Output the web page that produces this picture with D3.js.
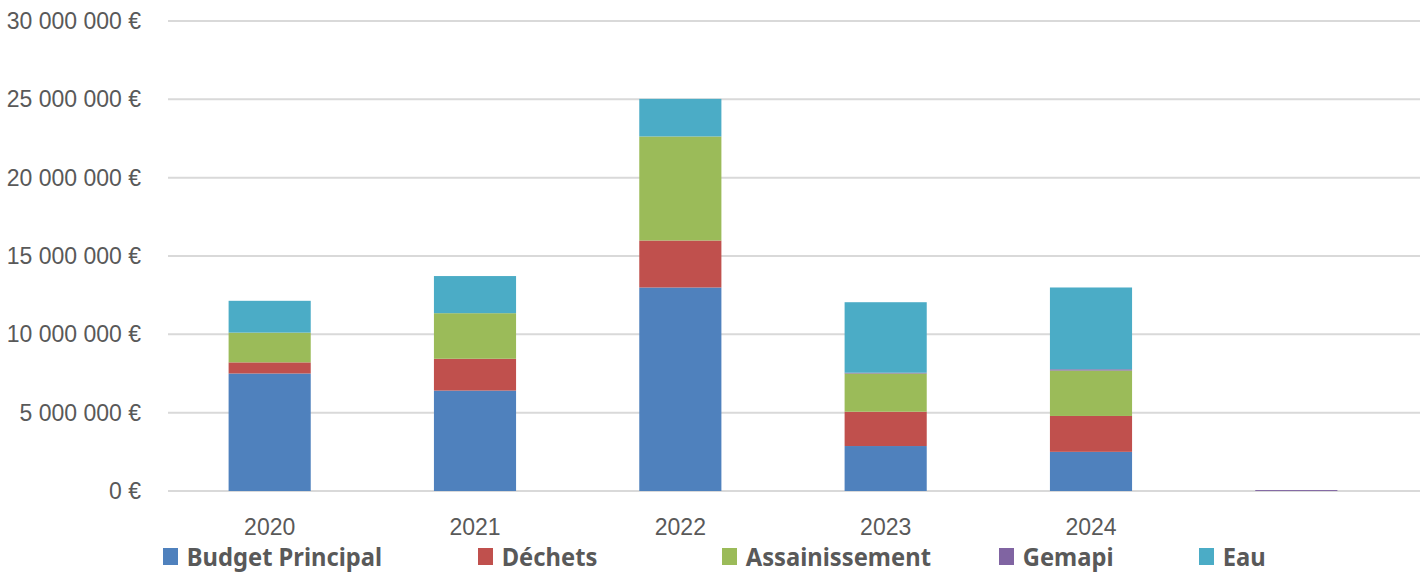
<html>
<head>
    <style>
        body {
            margin: 0;
            background-color: white;
            font-family: 'Noto Sans', sans-serif;
        }

        .axis text {
            fill: #595959;
            font-size: 23px;
        }

        .grid line {
            stroke: #d9d9d9;
            stroke-width: 2;
        }

        .legend text {
            fill: #595959;
            font-size: 25px;
            font-weight: bold;
        }
    </style>
    <script src="https://d3js.org/d3.v7.min.js"></script>
</head>

<body>
    <svg width="1427" height="572"></svg>

    <script>
        var years = ['2020', '2021', '2022', '2023', '2024', ''];
        var seriesNames = ['Budget Principal', 'Déchets', 'Assainissement', 'Gemapi', 'Eau'];
        var budgetPrincipal = [7500000, 6410000, 12990000, 2870000, 2500000, 0];
        var dechets = [710000, 2030000, 3000000, 2190000, 2290000, 0];
        var assainissement = [1900000, 2910000, 6640000, 2440000, 2900000, 0];
        var gemapi = [0, 0, 0, 50000, 80000, 60000];
        var eau = [2030000, 2370000, 2400000, 4500000, 5220000, 0];
        var yTicks = [0, 5000000, 10000000, 15000000, 20000000, 25000000, 30000000];
        var colors = ['#4f81bd', '#c0504d', '#9bbb59', '#8064a2', '#4bacc6'];

        var plotLeft = 168;
        var plotRight = 1420;
        var plotTop = 21;
        var plotBottom = 491;

        var rows = years.map(function (y, i) {
            return {
                year: y,
                'Budget Principal': budgetPrincipal[i],
                'Déchets': dechets[i],
                'Assainissement': assainissement[i],
                'Gemapi': gemapi[i],
                'Eau': eau[i]
            };
        });

        var xScale = d3.scaleBand()
            .domain(d3.range(years.length))
            .range([167, 1399])
            .paddingInner(0.6)
            .paddingOuter(0.3);
        var yScale = d3.scaleLinear()
            .domain([0, 30000000])
            .range([plotBottom, plotTop]);

        var fr = d3.formatLocale({ decimal: ',', thousands: ' ', grouping: [3], currency: ['', ' €'] });
        var euro = fr.format('$,.0f');

        var svg = d3.select('svg');

        // gridlines
        svg.append('g')
            .attr('class', 'grid')
            .selectAll('line')
            .data(yTicks)
            .enter()
            .append('line')
            .attr('x1', plotLeft)
            .attr('x2', plotRight)
            .attr('y1', function (d) { return yScale(d) })
            .attr('y2', function (d) { return yScale(d) });

        // stacked bars
        var stack = d3.stack().keys(seriesNames);
        var layers = stack(rows);
        svg.append('g')
            .selectAll('g')
            .data(layers)
            .enter()
            .append('g')
            .attr('fill', function (d, i) { return colors[i] })
            .selectAll('rect')
            .data(function (d) { return d })
            .enter()
            .append('rect')
            .attr('x', function (d, i) { return xScale(i) })
            .attr('width', xScale.bandwidth())
            .attr('y', function (d) { return yScale(d[1]) })
            .attr('height', function (d) { return yScale(d[0]) - yScale(d[1]) });

        // y axis
        var yAxis = d3.axisLeft(yScale)
            .tickValues(yTicks)
            .tickFormat(euro)
            .tickSize(0)
            .tickPadding(27);
        svg.append('g')
            .attr('class', 'axis')
            .attr('transform', 'translate(' + plotLeft + ',0)')
            .call(yAxis)
            .call(function (g) { g.select('.domain').remove() });

        // x axis
        var xAxis = d3.axisBottom(xScale)
            .tickFormat(function (i) { return years[i] })
            .tickSize(0)
            .tickPadding(28);
        svg.append('g')
            .attr('class', 'axis')
            .attr('transform', 'translate(0,' + plotBottom + ')')
            .call(xAxis)
            .call(function (g) { g.select('.domain').remove() });

        // legend
        var legendX = [163, 478, 722, 999, 1199];
        var legend = svg.append('g')
            .attr('class', 'legend')
            .selectAll('g')
            .data(seriesNames)
            .enter()
            .append('g')
            .attr('transform', function (d, i) { return 'translate(' + legendX[i] + ',548)' });
        legend.append('rect')
            .attr('width', 15)
            .attr('height', 17)
            .attr('fill', function (d, i) { return colors[i] });
        legend.append('text')
            .attr('x', 25)
            .attr('y', 18)
            .attr('transform', 'scale(0.95,1)')
            .text(function (d) { return d });
    </script>
</body>

</html>
